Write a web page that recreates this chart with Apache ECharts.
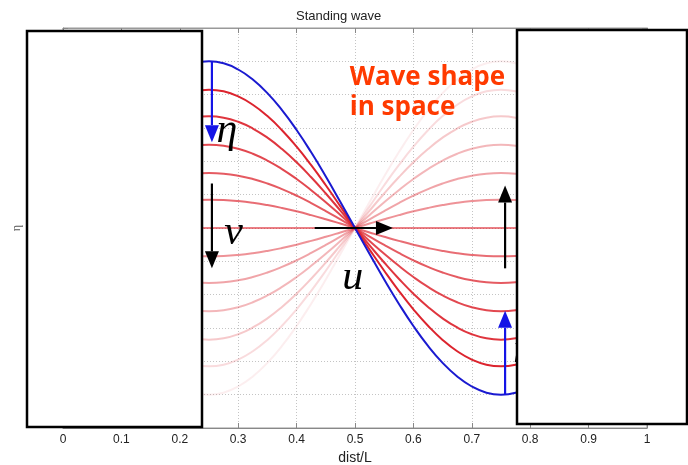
<!DOCTYPE html>
<html>
<head>
<meta charset="utf-8">
<script src="https://cdn.jsdelivr.net/npm/echarts@6/dist/echarts.min.js"></script>
<style>
  html, body { margin: 0; padding: 0; background: #fff; }
  #chart { width: 688px; height: 465px; }
</style>
</head>
<body>
<div id="chart"></div>
<script>
// positions along the string (dist/L)
const xs = [0, 0.025, 0.05, 0.075, 0.1, 0.125, 0.15, 0.175, 0.2, 0.225, 0.25,
            0.275, 0.3, 0.325, 0.35, 0.375, 0.4, 0.425, 0.45, 0.475, 0.5,
            0.525, 0.55, 0.575, 0.6, 0.625, 0.65, 0.675, 0.7, 0.725, 0.75,
            0.775, 0.8, 0.825, 0.85, 0.875, 0.9, 0.925, 0.95, 0.975, 1];
// shape of the blue (max) curve
const shape = [0, 0.156, 0.309, 0.454, 0.588, 0.707, 0.809, 0.891, 0.951, 0.988, 1,
               0.988, 0.951, 0.891, 0.809, 0.707, 0.588, 0.454, 0.309, 0.156, 0,
               -0.156, -0.309, -0.454, -0.588, -0.707, -0.809, -0.891, -0.951, -0.988, -1,
               -0.988, -0.951, -0.891, -0.809, -0.707, -0.588, -0.454, -0.309, -0.156, 0];
// amplitude of each snapshot (first one = blue)
const amps = [1, 0.83, 0.67, 0.5, 0.33, 0.17, 0, -0.17, -0.33, -0.5, -0.67, -0.83, -1];

// arrows, in data units
const arrows = [
  { from: [0.255, 1.0], to: [0.255, 0.515], color: '#1414e6' },
  { from: [0.255, 0.267], to: [0.255, -0.242], color: '#000' },
  { from: [0.431, 0], to: [0.565, 0], color: '#000' },
  { from: [0.757, -0.242], to: [0.757, 0.255], color: '#000' },
  { from: [0.757, -1.0], to: [0.757, -0.497], color: '#1414e6' }
];
const symbols = [
  { text: 'η', at: [0.263, 0.58] },
  { text: 'v', at: [0.276, -0.03] },
  { text: 'u', at: [0.478, -0.3] },
  { text: 'η', at: [0.771, -0.74] }
];
const note = ['Wave shape', 'in space'];

const chart = echarts.init(document.getElementById('chart'));

// faint snapshots first, blue on top
const series = [];
for (let k = amps.length - 1; k >= 0; k--) {
  const a = amps[k];
  let color;
  if (k === 0) {
    color = '#1a1ad0';
  } else {
    const t = (a + 1) / 1.83;
    const op = 0.08 + 0.92 * t;
    color = 'rgba(220,36,46,' + op.toFixed(3) + ')';
  }
  series.push({
    type: 'line',
    data: xs.map((x, i) => [x, a * shape[i]]),
    smooth: true,
    showSymbol: false,
    silent: true,
    lineStyle: { width: 2, color: color },
    z: 2
  });
}

const tickStyle = { inside: true, length: 5, lineStyle: { color: '#888' } };
const split = { show: true, lineStyle: { color: '#c4c4c4', type: [1, 2], width: 1 } };

chart.setOption({
  animation: false,
  backgroundColor: '#fff',
  title: {
    text: 'Standing wave',
    left: 291,
    top: 5,
    textStyle: { fontSize: 13, fontWeight: 'normal', color: '#222', fontFamily: 'Liberation Sans' }
  },
  grid: {
    left: 63, right: 41, top: 28, bottom: 37,
    outerBoundsMode: 'none', containLabel: false,
    show: true, borderColor: '#999', borderWidth: 1
  },
  xAxis: [{
    type: 'value', min: 0, max: 1, interval: 0.1, position: 'bottom',
    axisLine: { show: true, onZero: false, lineStyle: { color: '#888' } },
    axisTick: tickStyle,
    axisLabel: { color: '#222', fontSize: 12, margin: 6, fontFamily: 'Liberation Sans' },
    splitLine: split,
    name: 'dist/L', nameLocation: 'middle', nameGap: 21,
    nameTextStyle: { color: '#222', fontSize: 14, fontFamily: 'Liberation Sans' }
  }, {
    type: 'value', min: 0, max: 1, interval: 0.1, position: 'top',
    axisLine: { show: true, onZero: false, lineStyle: { color: '#999' } },
    axisTick: tickStyle, axisLabel: { show: false }, splitLine: { show: false }
  }],
  yAxis: [{
    type: 'value', min: -1.2, max: 1.2, interval: 0.2, position: 'left',
    axisLine: { show: true, onZero: false, lineStyle: { color: '#888' } },
    axisTick: tickStyle,
    axisLabel: { show: false },
    splitLine: split,
    name: 'η', nameLocation: 'middle', nameGap: 40,
    nameTextStyle: { color: '#555', fontSize: 12, fontFamily: 'Liberation Serif' }
  }, {
    type: 'value', min: -1.2, max: 1.2, interval: 0.2, position: 'right',
    axisLine: { show: true, onZero: false, lineStyle: { color: '#999' } },
    axisTick: tickStyle, axisLabel: { show: false }, splitLine: { show: false }
  }],
  series: series
});

const px = (p) => chart.convertToPixel({ xAxisIndex: 0, yAxisIndex: 0 }, p);

const graphics = [];
arrows.forEach(ar => {
  const p0 = px(ar.from), p1 = px(ar.to);
  const dx = p1[0] - p0[0], dy = p1[1] - p0[1];
  const len = Math.sqrt(dx * dx + dy * dy);
  const ux = dx / len, uy = dy / len;
  const headLen = 17, half = 7;
  const bx = p1[0] - ux * headLen, by = p1[1] - uy * headLen;
  graphics.push({
    type: 'line', z: 10,
    shape: { x1: p0[0], y1: p0[1], x2: bx, y2: by },
    style: { stroke: ar.color, lineWidth: 2.2 }
  });
  graphics.push({
    type: 'polygon', z: 10,
    shape: { points: [[p1[0], p1[1]], [bx - uy * half, by + ux * half], [bx + uy * half, by - ux * half]] },
    style: { fill: ar.color }
  });
});
symbols.forEach(s => {
  const p = px(s.at);
  graphics.push({
    type: 'text', z: 10, x: p[0], y: p[1],
    style: { text: s.text, fill: '#000', font: 'italic 42px "Liberation Serif"', verticalAlign: 'middle', align: 'left' }
  });
});
const np = px([0.491, 0.905]);
note.forEach((t, i) => {
  graphics.push({
    type: 'text', z: 10, x: np[0], y: np[1] + i * 30,
    style: { text: t, fill: '#ff3a00', font: 'bold 26px "Open Sans"', verticalAlign: 'middle', align: 'left' }
  });
});
// white cover boxes
graphics.push({
  type: 'rect', z: 20,
  shape: { x: 27, y: 31, width: 175, height: 396 },
  style: { fill: '#fff', stroke: '#000', lineWidth: 2.5 }
});
graphics.push({
  type: 'rect', z: 20,
  shape: { x: 517, y: 30, width: 170, height: 394 },
  style: { fill: '#fff', stroke: '#000', lineWidth: 2.5 }
});

chart.setOption({ graphic: graphics });
</script>
</body>
</html>
